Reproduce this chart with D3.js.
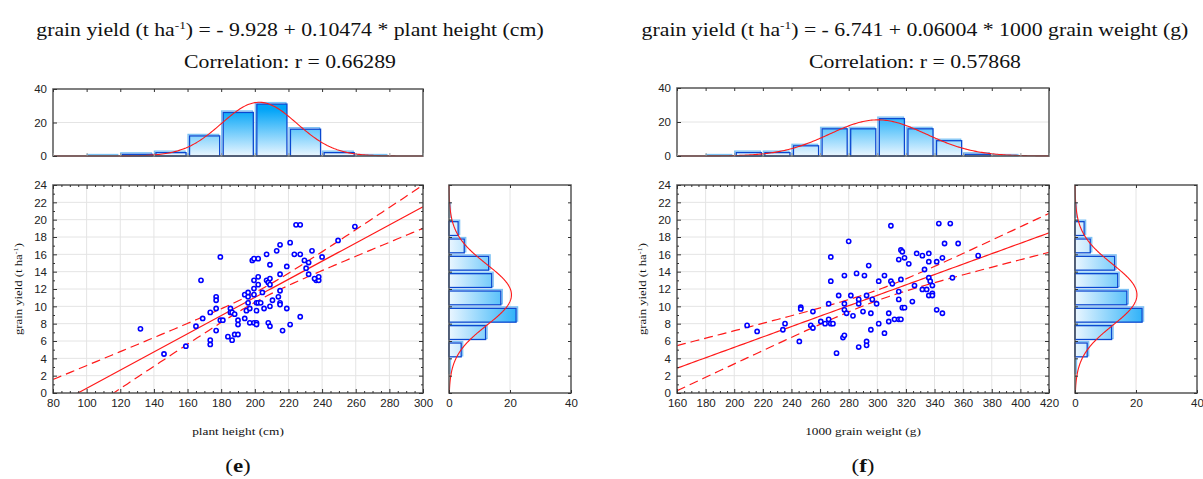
<!DOCTYPE html>
<html>
<head>
<meta charset="utf-8">
<title>grain yield regressions</title>
<script src="https://d3js.org/d3.v7.min.js"></script>
<style>
  body { margin: 0; background: #fff; }
  .tick text { font-family: "Liberation Sans", Arial, sans-serif; font-size: 11.5px; fill: #222; }
  .serif { font-family: "Liberation Serif", "Times New Roman", serif; fill: #111; }
</style>
</head>
<body>
<svg id="chart" width="1203" height="479"></svg>
<script>
// ---- data ----
var plantHeight = [132,146,159,165,168,169,173.5,173.5,173.5,177,177,177,177,179.5,179.5,181,184,185.5,185.5,186.5,186.5,188,188,190,190,190,194,194,195,196,196,196,197,197,198.5,199.5,199.5,199.5,199.5,199.5,201,201,201,201,202,202,202,202,203.5,204.5,205.5,207,207,208,208,209,209,209,209,209,210.5,213,214,215,215,215,215,215,216.5,219,219,221,221,223.5,224.5,227,227,227,229.5,230.5,232,232,234,236.5,238,238,240,249.5,259.5,235.5];
var yieldE = [7.4,4.5,5.4,7.7,13.0,8.6,6.1,5.6,9.3,7.2,9.75,11.1,10.7,15.7,8.4,8.4,6.5,9.75,9.3,6.1,9.3,9.1,6.75,6.75,8.4,7.9,11.35,8.6,9.5,11.6,11.1,10.4,9.75,8.1,15.3,12.05,13.0,15.5,11.35,8.1,8.1,7.9,9.5,10.4,12.5,13.4,15.5,10.4,10.4,11.6,9.75,16.0,13.0,12.75,8.1,14.8,13.2,12.5,10.0,7.7,10.7,16.4,11.1,17.1,13.7,11.8,10.4,10.2,7.2,14.6,9.75,17.35,7.9,16.0,19.4,19.4,16.0,8.8,15.3,14.4,15.05,13.7,16.4,13.0,13.0,13.4,15.7,17.6,19.2,13.2];

var grainWeight = [209,216,234,235.5,245.5,246.5,246.5,253.5,255,255,260.5,263.5,266,266,267.5,267.5,267.5,269,271.5,273,276,277,277,277,277,278.5,280,281.5,283,285.5,287,287,287,290,291,292.5,292.5,292.5,294,295.5,295.5,296.5,299.5,301,301,305,305,308,308,309.5,309.5,310.5,312,315,315,315,315,316.5,316.5,316.5,317.5,317.5,319,319,322,324.5,326,327.5,331.5,331.5,333,334.5,336,336,336,336,337,338.5,338.5,338.5,341.5,341.5,343,345.5,345.5,347,351,352.5,356.5,370.5];
var yieldF = [7.8,7.1,7.3,8.0,5.95,9.9,9.7,7.8,7.5,9.4,8.25,8.0,10.3,8.5,15.7,12.9,8.0,8.0,4.6,11.25,6.4,6.65,13.55,10.3,9.6,9.2,17.5,11.25,8.9,13.8,5.3,10.8,10.3,9.4,13.55,5.95,5.5,11.25,14.7,9.2,7.3,10.8,10.3,12.9,8.0,13.55,6.9,9.2,8.25,19.3,12.9,12.6,8.5,15.4,11.7,10.8,8.5,16.5,13.1,8.5,16.3,9.85,9.85,15.6,14.9,10.55,12.4,16.1,11.95,15.85,14.25,11.95,16.1,15.15,13.3,11.25,12.9,12.4,11.5,11.25,15.15,9.6,19.55,15.6,9.2,17.25,19.55,13.3,17.25,15.85];

// histogram counts (bin lower edges)
var heightBins = [100,120,140,160,180,200,220,240,260];
var heightCounts = [0,1,2,12,26,31,16,2,0];
var weightBins = [180,200,220,240,260,280,300,320,340,360,380];
var weightCounts = [0,2,2,6,16,16,22,16,9,1,0];
var yieldBins = [2,4,6,8,10,12,14,16,18,20];
var yieldCounts = [0,4,12,22,17,14,13,5,3,0];

// fitted equations: intercept, slope, r
var fitE = [-9.928, 0.10474, 0.66289];
var fitF = [-6.741, 0.06004, 0.57868];

var svg = d3.select("#chart");
var defs = svg.append("defs");

// serif text in the reference is a wide (Palatino-like) face, stretch Liberation Serif to match
var SERIF_STRETCH = 1.21;
function stretch(sel) {
  var len = sel.node().getComputedTextLength();
  sel.attr("textLength", len * SERIF_STRETCH).attr("lengthAdjust", "spacingAndGlyphs");
  return sel;
}

function inwardAxis(g, axis, scale, major, minor, size, labels) {
  var mj = g.append("g").call(axis(scale).tickValues(major).tickSize(-size).tickPadding(6)
      .tickFormat(labels ? d3.format("d") : ""));
  mj.select(".domain").remove();
  mj.selectAll("line").attr("stroke", "#333");
  if (minor) {
    var mn = g.append("g").call(axis(scale).tickValues(minor).tickSize(-2).tickFormat(""));
    mn.select(".domain").remove();
    mn.selectAll("line").attr("stroke", "#333");
  }
  return mj;
}

function frame(x0, y0, x1, y1) {
  svg.append("rect").attr("x", x0).attr("y", y0).attr("width", x1 - x0).attr("height", y1 - y0)
    .attr("fill", "none").attr("stroke", "#555").attr("stroke-width", 1.5);
}

function drawPanel(o) {
  var n = o.xs.length;
  var x = d3.scaleLinear().domain(o.xDomain).range([o.left, o.left + 370 + o.extra]);
  var y = d3.scaleLinear().domain([0, 24]).range([393, 185]);
  var xr = x.range();

  // ---- scatter grid ----
  var grid = svg.append("g").attr("stroke", "#e4e4e4").attr("stroke-width", 1);
  grid.selectAll(".gx").data(d3.range(o.xDomain[0] + 20, o.xDomain[1], 20)).join("line")
    .attr("x1", d => x(d)).attr("x2", d => x(d)).attr("y1", 185).attr("y2", 393);
  grid.selectAll(".gy").data(d3.range(2, 24, 2)).join("line")
    .attr("y1", d => y(d)).attr("y2", d => y(d)).attr("x1", xr[0]).attr("x2", xr[1]);

  // ---- regression and 95% confidence band ----
  var a = o.fit[0], b = o.fit[1];
  var mx = d3.mean(o.xs);
  var sxx = d3.sum(o.xs, v => (v - mx) * (v - mx));
  var sse = d3.sum(o.xs, (v, i) => Math.pow(o.ys[i] - a - b * v, 2));
  var s = Math.sqrt(sse / (n - 2));
  var t = 1.987;
  var xsLine = d3.range(o.xDomain[0], o.xDomain[1] + 0.1, (o.xDomain[1] - o.xDomain[0]) / 100);
  function hw(v) { return t * s * Math.sqrt(1 / n + (v - mx) * (v - mx) / sxx); }

  var clipId = "clip" + o.id;
  defs.append("clipPath").attr("id", clipId).append("rect")
    .attr("x", xr[0]).attr("y", 185).attr("width", xr[1] - xr[0]).attr("height", 208);
  var plot = svg.append("g").attr("clip-path", "url(#" + clipId + ")");
  var line = d3.line().x(d => x(d[0])).y(d => y(d[1]));
  plot.append("path").datum(xsLine.map(v => [v, a + b * v])).attr("d", line)
    .attr("fill", "none").attr("stroke", "#ff1a1a").attr("stroke-width", 1.2);
  [1, -1].forEach(function (sg) {
    plot.append("path").datum(xsLine.map(v => [v, a + b * v + sg * hw(v)])).attr("d", line)
      .attr("fill", "none").attr("stroke", "#ff1a1a").attr("stroke-width", 1.2).attr("stroke-dasharray", "9,5");
  });

  // ---- points ----
  svg.append("g").selectAll("circle").data(o.xs).join("circle")
    .attr("cx", d => x(d)).attr("cy", (d, i) => y(o.ys[i])).attr("r", 2.1)
    .attr("fill", "#fff").attr("stroke", "#0000ff").attr("stroke-width", 1.6);

  // ---- scatter frame & axes ----
  frame(xr[0], 185, xr[1], 393);
  var majX = d3.range(o.xDomain[0], o.xDomain[1] + 1, 20);
  var minX = d3.range(o.xDomain[0], o.xDomain[1] + 1, 5).filter(v => v % 20 !== 0);
  var majY = d3.range(0, 25, 2), minY = d3.range(1, 24, 2);
  inwardAxis(svg.append("g").attr("transform", "translate(0,393)"), d3.axisBottom, x, majX, minX, 4, true);
  inwardAxis(svg.append("g").attr("transform", "translate(0,185)"), d3.axisTop, x, majX, minX, 4, false);
  inwardAxis(svg.append("g").attr("transform", "translate(" + xr[0] + ",0)"), d3.axisLeft, y, majY, minY, 4, true);
  inwardAxis(svg.append("g").attr("transform", "translate(" + xr[1] + ",0)"), d3.axisRight, y, majY, minY, 4, false);

  // ---- top histogram ----
  var yt = d3.scaleLinear().domain([0, 40]).range([156, o.topY]);
  svg.append("line").attr("x1", xr[0]).attr("x2", xr[1]).attr("y1", yt(20)).attr("y2", yt(20))
    .attr("stroke", "#e4e4e4");
  var gT = defs.append("linearGradient").attr("id", "gT" + o.id).attr("gradientUnits", "userSpaceOnUse")
    .attr("x1", 0).attr("x2", 0).attr("y1", yt(0)).attr("y2", yt(28));
  gT.append("stop").attr("offset", 0).attr("stop-color", "#eaf6ff");
  gT.append("stop").attr("offset", 1).attr("stop-color", "#00a4f8");
  var bt = svg.append("g");
  bt.selectAll(".halo").data(o.xBins).join("rect")
    .attr("x", d => x(d) + 0.5).attr("y", (d, i) => yt(o.xCounts[i]) - 1.5)
    .attr("width", d => x(d + 20) - x(d) - 3).attr("height", (d, i) => yt(0) - yt(o.xCounts[i]) + 1.5)
    .attr("fill", "none").attr("stroke", "#7cc2f4").attr("stroke-width", 1.3);
  bt.selectAll(".bar").data(o.xBins).join("rect")
    .attr("x", d => x(d) + 2).attr("y", (d, i) => yt(o.xCounts[i]))
    .attr("width", d => x(d + 20) - x(d) - 3.5).attr("height", (d, i) => yt(0) - yt(o.xCounts[i]))
    .attr("fill", "url(#gT" + o.id + ")").attr("stroke", "#0a48d0").attr("stroke-width", 1.3);
  var sdx = d3.deviation(o.xs);
  var pdf = (v, m, sd) => Math.exp(-0.5 * Math.pow((v - m) / sd, 2)) / (sd * Math.sqrt(2 * Math.PI));
  var curveT = d3.range(o.xDomain[0], o.xDomain[1] + 0.5, 1).map(v => [v, n * 20 * pdf(v, mx, sdx)]);
  svg.append("path").datum(curveT).attr("d", d3.line().x(d => x(d[0])).y(d => yt(d[1])))
    .attr("fill", "none").attr("stroke", "#ff1a1a").attr("stroke-width", 1.1);
  frame(xr[0], o.topY, xr[1], 156);
  inwardAxis(svg.append("g").attr("transform", "translate(" + xr[0] + ",0)"), d3.axisLeft, yt, [0, 20, 40], null, 4, true);
  inwardAxis(svg.append("g").attr("transform", "translate(0," + o.topY + ")"), d3.axisTop, x, majX, null, 3, false);
  inwardAxis(svg.append("g").attr("transform", "translate(0,156)"), d3.axisBottom, x, majX, null, 3, false)
    .selectAll("line").attr("stroke", "#999");

  // ---- right histogram ----
  var h0 = xr[1] + 26;
  var xh = d3.scaleLinear().domain([0, 40]).range([h0, h0 + 122]);
  svg.append("line").attr("x1", xh(20)).attr("x2", xh(20)).attr("y1", 185).attr("y2", 393)
    .attr("stroke", "#e4e4e4");
  var gR = defs.append("linearGradient").attr("id", "gR" + o.id).attr("gradientUnits", "userSpaceOnUse")
    .attr("x1", xh(0)).attr("x2", xh(24)).attr("y1", 0).attr("y2", 0);
  gR.append("stop").attr("offset", 0).attr("stop-color", "#eaf6ff");
  gR.append("stop").attr("offset", 1).attr("stop-color", "#20acf8");
  var br = svg.append("g");
  br.selectAll(".halo").data(yieldBins).join("rect")
    .attr("x", xh(0)).attr("y", d => y(d + 2) + 0.5)
    .attr("width", (d, i) => xh(yieldCounts[i]) - xh(0) + 1.5).attr("height", d => y(d) - y(d + 2) - 3)
    .attr("fill", "none").attr("stroke", "#7cc2f4").attr("stroke-width", 1.3);
  br.selectAll(".bar").data(yieldBins).join("rect")
    .attr("x", xh(0)).attr("y", d => y(d + 2) + 2)
    .attr("width", (d, i) => xh(yieldCounts[i]) - xh(0)).attr("height", d => y(d) - y(d + 2) - 3.5)
    .attr("fill", "url(#gR" + o.id + ")").attr("stroke", "#0a48d0").attr("stroke-width", 1.3);
  var my = d3.mean(o.ys), sdy = d3.deviation(o.ys);
  var curveR = d3.range(0, 24.01, 0.1).map(v => [v, n * 2 * pdf(v, my, sdy)]);
  svg.append("path").datum(curveR).attr("d", d3.line().x(d => xh(d[1])).y(d => y(d[0])))
    .attr("fill", "none").attr("stroke", "#ff1a1a").attr("stroke-width", 1.1);
  frame(xh(0), 185, xh(40), 393);
  inwardAxis(svg.append("g").attr("transform", "translate(0,393)"), d3.axisBottom, xh, [0, 20, 40], null, 3, true);
  inwardAxis(svg.append("g").attr("transform", "translate(0,185)"), d3.axisTop, xh, [20], null, 3, false);
  inwardAxis(svg.append("g").attr("transform", "translate(" + xh(0) + ",0)"), d3.axisLeft, y, majY, null, 3, false);
  inwardAxis(svg.append("g").attr("transform", "translate(" + xh(40) + ",0)"), d3.axisRight, y, majY, null, 3, false);

  // ---- texts ----
  var cx = (xr[0] + xr[1]) / 2;
  var t1 = svg.append("text").attr("class", "serif").attr("x", o.titleX).attr("y", 36)
    .attr("text-anchor", "middle").style("font-size", "18px");
  t1.append("tspan").text("grain yield (t ha");
  t1.append("tspan").attr("dy", -7).style("font-size", "11px").text("-1");
  t1.append("tspan").attr("dy", 7).text(") = - " + Math.abs(a).toFixed(3) + " + " + b.toFixed(5) + " * " + o.xName);
  stretch(t1);
  stretch(svg.append("text").attr("class", "serif").attr("x", o.titleX).attr("y", 68)
    .attr("text-anchor", "middle").style("font-size", "18px")
    .text("Correlation: r = " + o.fit[2].toFixed(5)));

  var yl = svg.append("text").attr("class", "serif").attr("text-anchor", "middle")
    .attr("transform", "translate(" + (xr[0] - 31) + ",289) rotate(-90)").style("font-size", "10.5px");
  yl.append("tspan").text("grain yield (t ha");
  yl.append("tspan").attr("dy", -4).style("font-size", "7px").text("-1");
  yl.append("tspan").attr("dy", 4).text(")");
  stretch(yl);

  stretch(svg.append("text").attr("class", "serif").attr("x", cx).attr("y", 435).attr("text-anchor", "middle")
    .style("font-size", "11px").text(o.xName));

  var lab = svg.append("text").attr("class", "serif").attr("x", cx).attr("y", 472).attr("text-anchor", "middle")
    .style("font-size", "19px");
  lab.append("tspan").text("(");
  lab.append("tspan").style("font-weight", "bold").text(o.id);
  lab.append("tspan").text(")");
  stretch(lab);
}

drawPanel({ id: "e", xs: plantHeight, ys: yieldE, xDomain: [80, 300], left: 53, extra: 0, topY: 89,
  xBins: heightBins, xCounts: heightCounts, fit: fitE, xName: "plant height (cm)", titleX: 290 });
drawPanel({ id: "f", xs: grainWeight, ys: yieldF, xDomain: [160, 420], left: 677, extra: 2, topY: 88,
  xBins: weightBins, xCounts: weightCounts, fit: fitF, xName: "1000 grain weight (g)", titleX: 915 });
</script>
</body>
</html>
